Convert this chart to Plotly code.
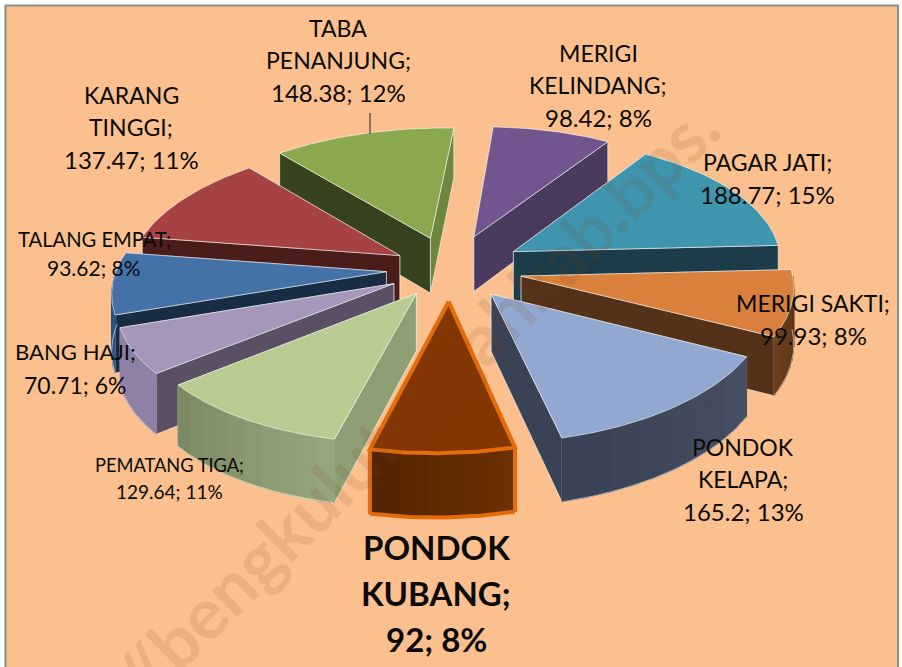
import numpy as np
import plotly.graph_objects as go

categories = ["TABA PENANJUNG", "MERIGI KELINDANG", "PAGAR JATI", "MERIGI SAKTI", "PONDOK KELAPA",
              "PONDOK KUBANG", "PEMATANG TIGA", "BANG HAJI", "TALANG EMPAT", "KARANG TINGGI"]
values = [148.38, 98.42, 188.77, 99.93, 165.2, 92, 129.64, 70.71, 93.62, 137.47]

top_col = ["#8AA84E", "#71558F", "#4095AE", "#D8803C", "#92A8D0", "#833602", "#B8CB90", "#A596BA", "#4472A8", "#A64342"]
s_col = ["#37431E", "#4A3A5E", "#1B3C48", "#543117", "#3A4256", "#5E2A02", "#8E9F75", "#5A4F63", "#182C44", "#4A1C1A"]
e_col = ["#6E863E", "#4A3A5E", "#1B3C48", "#543117", "#3A4256", "#5E2A02", "#8E9F75", "#5A4F63", "#182C44", "#4A1C1A"]
rim_a = ["#6E863E", "#4A3A5E", "#1B3C48", "#543117", "#474F63", "#6B3003", "#95A67C", "#8F81A5", "#2E5580", "#4A1C1A"]
rim_b = ["#6E863E", "#4A3A5E", "#1B3C48", "#6A3F1E", "#3A4256", "#552401", "#7B8A63", "#8F81A5", "#2E5580", "#4A1C1A"]
pull = [0.26, 0.27, 0.27, 0.27, 0.25, 0.25, 0.22, 0.23, 0.235, 0.22]
draw_order = [0, 1, 9, 2, 8, 3, 7, 4, 6, 5]

CX, CY, RX, RY, K, H, START, SHEAR = 450, 269, 270, 128, 0.105, 56, -41, -12


def proj(u, v, z=0.0):
    w = 1 - K * v
    return CX + (RX * u + SHEAR * v) / w, CY + (RY * v + H * z) / w


def hex_mix(a, b, t):
    ca = [int(a[i:i + 2], 16) for i in (1, 3, 5)]
    cb = [int(b[i:i + 2], 16) for i in (1, 3, 5)]
    return "#%02X%02X%02X" % tuple(round(x + (y - x) * t) for x, y in zip(ca, cb))


fig = go.Figure()


def poly(xs, ys, fill, line="rgba(255,255,255,0.55)", lw=1):
    fig.add_trace(go.Scatter(x=list(xs) + [xs[0]], y=list(ys) + [ys[0]], mode="lines", fill="toself",
                             fillcolor=fill, line=dict(color=line, width=lw), hoverinfo="skip", showlegend=False))


def stroke(pts, color, width):
    fig.add_trace(go.Scatter(x=[p[0] for p in pts], y=[p[1] for p in pts], mode="lines",
                             line=dict(color=color, width=width), hoverinfo="skip", showlegend=False))


total = sum(values)
edges = START + np.cumsum([0] + values) / total * 360

for i in draw_order:
    a0, a1 = np.radians(edges[i]), np.radians(edges[i + 1])
    mid = (a0 + a1) / 2
    eu, ev = pull[i] * np.sin(mid), -pull[i] * np.cos(mid)
    th = np.linspace(a0, a1, 41)
    U, V = eu + np.sin(th), ev - np.cos(th)
    front = -np.cos(th) > -0.03
    tip_t = proj(eu, ev, 0)
    tip_b = proj(eu, ev, 1)
    outer_t = [proj(u, v, 0) for u, v in zip(U, V)]
    outer_b = [proj(u, v, 1) for u, v in zip(U, V)]
    hl = "#E46C0A" if i == 5 else "rgba(255,255,255,0.55)"
    lw = 4 if i == 5 else 1
    faces = [(0, s_col[i]), (-1, e_col[i])]
    faces.sort(key=lambda f: V[f[0]])
    for idx, col in faces:
        poly([tip_t[0], outer_t[idx][0], outer_b[idx][0], tip_b[0]],
             [tip_t[1], outer_t[idx][1], outer_b[idx][1], tip_b[1]], col, hl, lw)
    n = 10
    for k in range(n):
        j0, j1 = k * 4, (k + 1) * 4
        if front[j0] and front[j1]:
            c = hex_mix(rim_a[i], rim_b[i], k / (n - 1))
            poly([outer_t[j0][0], outer_t[j1][0], outer_b[j1][0], outer_b[j0][0]],
                 [outer_t[j0][1], outer_t[j1][1], outer_b[j1][1], outer_b[j0][1]], c, c, 1)
    vis = [p for p, f in zip(outer_b, front) if f]
    if vis:
        stroke(vis, hl, lw)
    if i == 5:
        for idx in (0, -1):
            stroke([outer_t[idx], outer_b[idx]], hl, lw)
    poly([tip_t[0]] + [p[0] for p in outer_t], [tip_t[1]] + [p[1] for p in outer_t], top_col[i], hl, lw)

stroke([(370, 113), (370, 134)], "#222", 1)

label_pos = {
    0: (338, 60, ["TABA", "PENANJUNG;"], 24, 32.5),
    1: (598, 85, ["MERIGI", "KELINDANG;"], 24, 32.5),
    2: (767, 178, ["PAGAR JATI;"], 24, 32),
    3: (813, 319, ["MERIGI SAKTI;"], 24, 32),
    4: (743, 479, ["PONDOK", "KELAPA;"], 24, 32),
    5: (436, 593, ["PONDOK", "KUBANG;"], 33, 46),
    6: (169, 478, ["PEMATANG TIGA;"], 19, 26),
    7: (75, 368, ["BANG HAJI;"], 23, 33),
    8: (94, 253, ["TALANG EMPAT;"], 21, 29),
    9: (131, 127, ["KARANG", "TINGGI;"], 24, 32.5),
}

for i, (x, y, lines, size, gap) in label_pos.items():
    pct = round(values[i] / total * 100)
    rows = lines + [f"{values[i]:g}; {pct}%"]
    for r, row in enumerate(rows):
        yy = y + (r - (len(rows) - 1) / 2) * gap
        fs = size * 0.96 if r < len(lines) and i != 5 else size
        fig.add_annotation(x=x, y=yy, text=f"<b>{row}</b>" if i == 5 else row, showarrow=False,
                           xanchor="center", yanchor="middle",
                           font=dict(family="Lato", size=fs, color="#0A0A0A"))

fig.add_annotation(x=414, y=402, text="<b>//bengkulutengahkab.bps.</b>", textangle=-44.8, showarrow=False,
                   font=dict(family="Lato", size=71, color="rgba(120,70,30,0.13)"))

fig.update_xaxes(range=[0, 902], visible=False, fixedrange=True)
fig.update_yaxes(range=[667, 0], visible=False, fixedrange=True)
fig.update_layout(width=902, height=667, margin=dict(l=0, r=0, t=0, b=0), paper_bgcolor="white",
                  plot_bgcolor="white", showlegend=False,
                  shapes=[dict(type="rect", x0=5.5, y0=5.5, x1=898, y1=700, fillcolor="#FBC08E",
                               line=dict(color="#8C8C8C", width=2), layer="below")])
fig.write_html("out.html", config={"displayModeBar": False},
               post_script="document.body.style.margin='0';document.documentElement.style.overflow='hidden';")
